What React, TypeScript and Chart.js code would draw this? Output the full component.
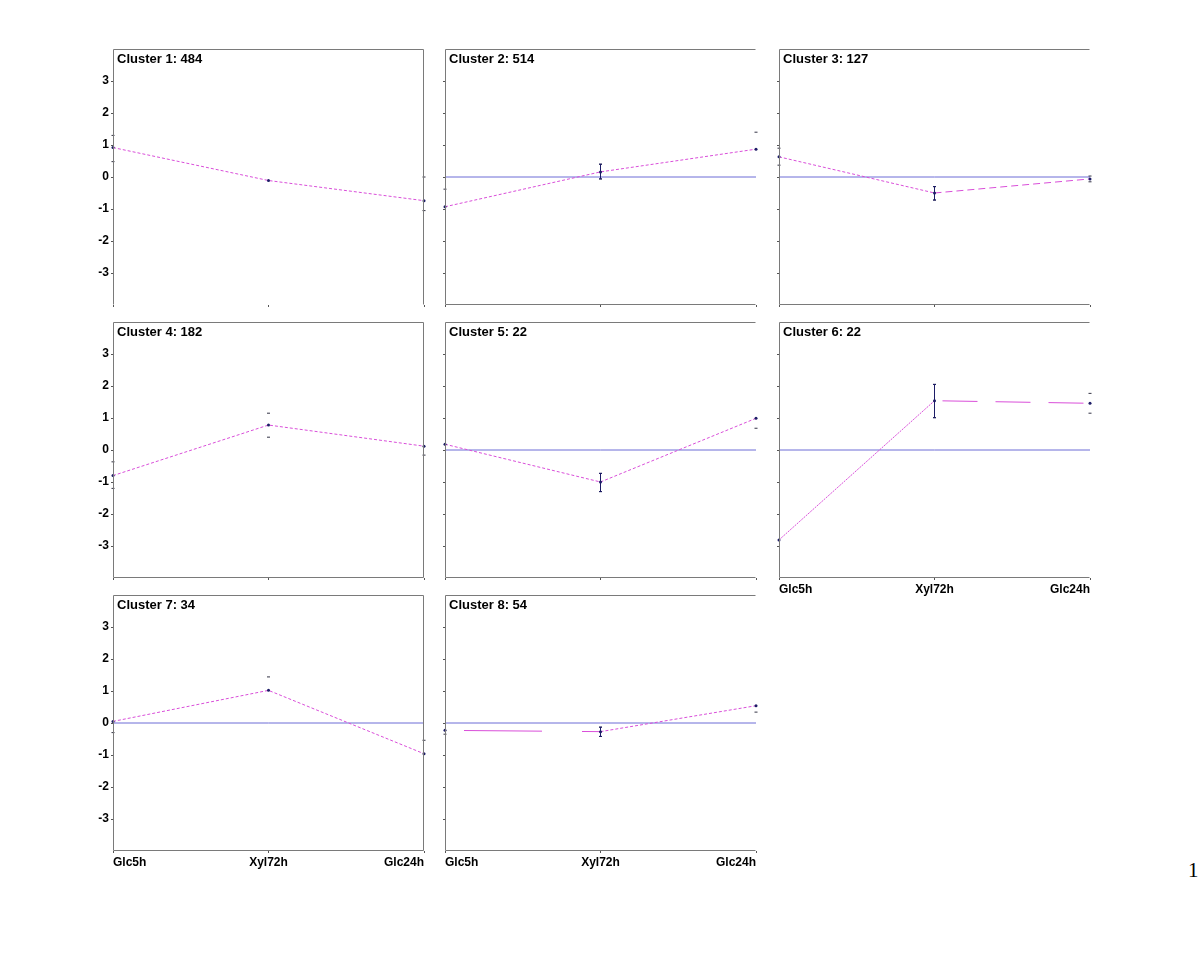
import React, { useEffect, useRef } from 'react';
import { Chart, registerables } from 'chart.js';

Chart.register(...registerables);

// ---------- data ----------
const categories = ['Glc5h', 'Xyl72h', 'Glc24h'];
const clusterTitles = [
  'Cluster 1: 484',
  'Cluster 2: 514',
  'Cluster 3: 127',
  'Cluster 4: 182',
  'Cluster 5: 22',
  'Cluster 6: 22',
  'Cluster 7: 34',
  'Cluster 8: 54',
];
const yTickValues = [-3, -2, -1, 0, 1, 2, 3];

const c1Mean = [0.92, -0.11, -0.74];
const c1Upper = [1.3, null, 0.0];
const c1Lower = [0.48, null, -1.05];
const c1Bars = [false, false, false];

const c2Mean = [-0.93, 0.16, 0.87];
const c2Upper = [-0.38, 0.4, 1.4];
const c2Lower = [null, -0.06, null];
const c2Bars = [false, true, false];

const c3Mean = [0.63, -0.5, -0.06];
const c3Upper = [0.9, -0.3, 0.03];
const c3Lower = [0.37, -0.72, -0.15];
const c3Bars = [false, true, false];

const c4Mean = [-0.8, 0.78, 0.12];
const c4Upper = [-0.37, 1.15, null];
const c4Lower = [-1.2, 0.4, -0.16];
const c4Bars = [false, false, false];

const c5Mean = [0.18, -1.0, 0.99];
const c5Upper = [null, -0.73, null];
const c5Lower = [null, -1.3, 0.68];
const c5Bars = [false, true, false];

const c6Mean = [-2.81, 1.54, 1.46];
const c6Upper = [null, 2.05, 1.77];
const c6Lower = [null, 1.01, 1.15];
const c6Bars = [false, true, false];

const c7Mean = [0.05, 1.02, -0.96];
const c7Upper = [null, 1.44, -0.54];
const c7Lower = [-0.3, null, null];
const c7Bars = [false, false, false];

const c8Mean = [-0.23, -0.27, 0.54];
const c8Upper = [null, -0.13, null];
const c8Lower = [-0.35, -0.42, 0.34];
const c8Bars = [false, true, false];

const zeroLineShown = [false, true, true, false, true, true, true, true];

const clusterMeans = [c1Mean, c2Mean, c3Mean, c4Mean, c5Mean, c6Mean, c7Mean, c8Mean];
const clusterUppers = [c1Upper, c2Upper, c3Upper, c4Upper, c5Upper, c6Upper, c7Upper, c8Upper];
const clusterLowers = [c1Lower, c2Lower, c3Lower, c4Lower, c5Lower, c6Lower, c7Lower, c8Lower];
const clusterBars = [c1Bars, c2Bars, c3Bars, c4Bars, c5Bars, c6Bars, c7Bars, c8Bars];

// ---------- layout / styles ----------
const COL_LEFT = [113, 445, 779];
const ROW_TOP = [49, 322, 595];
const PANEL_W = 311;
const PANEL_H = 256;
const PAD_LEFT = 40;
const PAD_TOP = 12;
const PAD_RIGHT = 12;
const PAD_BOTTOM = 24;
const CANVAS_W = PAD_LEFT + PANEL_W + PAD_RIGHT;
const CANVAS_H = PAD_TOP + PANEL_H + PAD_BOTTOM;

const FONT = "'Liberation Sans', Arial, Helvetica, sans-serif";
const MEAN_COLOR = '#d94ed9';
const ZERO_COLOR = '#6c6cd6';
const BAR_COLOR = '#1c1c66';
const FRAME_COLOR = '#7a7a7a';

const DEFAULT_DASH = { dash: [3, 2], offset: 0 };
const segmentStyles: Record<number, { dash: number[]; offset: number }[]> = {
  2: [DEFAULT_DASH, { dash: [7, 4], offset: 0 }],
  5: [{ dash: [2, 1], offset: 0 }, { dash: [35, 18], offset: 45 }],
  7: [{ dash: [78, 40], offset: 99 }, DEFAULT_DASH],
};

function Panel({ idx }: { idx: number }) {
  const ref = useRef<HTMLCanvasElement | null>(null);
  const col = idx % 3;
  const row = Math.floor(idx / 3);
  const left = COL_LEFT[col] - PAD_LEFT;
  const top = ROW_TOP[row] - PAD_TOP;

  useEffect(() => {
    if (!ref.current) return;
    const showYLabels = col === 0;
    const showXLabels = idx >= 5;
    const frameRight = col === 0;
    const frameBottom = idx !== 0;
    const title = clusterTitles[idx];
    const segs = segmentStyles[idx] || [DEFAULT_DASH, DEFAULT_DASH];

    const datasets: any[] = [];
    if (zeroLineShown[idx]) {
      datasets.push({
        type: 'line',
        data: categories.map(() => 0),
        borderColor: ZERO_COLOR,
        borderWidth: 1,
        pointRadius: 0,
        order: 5,
      });
    }
    datasets.push({
      type: 'line',
      data: clusterMeans[idx],
      borderColor: MEAN_COLOR,
      borderWidth: 1,
      pointRadius: 1.5,
      pointBorderWidth: 0,
      pointBackgroundColor: BAR_COLOR,
      segment: {
        borderDash: (ctx: any) => segs[ctx.p0DataIndex].dash,
        borderDashOffset: (ctx: any) => segs[ctx.p0DataIndex].offset,
      },
      order: 2,
    });
    const markers: any[] = [];
    categories.forEach((c, i) => {
      const u = clusterUppers[idx][i];
      const l = clusterLowers[idx][i];
      if (u !== null) markers.push({ x: c, y: u });
      if (l !== null) markers.push({ x: c, y: l });
    });
    datasets.push({
      type: 'line',
      data: markers,
      showLine: false,
      pointStyle: 'line',
      pointRadius: 1.5,
      borderColor: '#333344',
      pointBorderColor: '#333344',
      pointBorderWidth: 1,
      order: 1,
    });
    categories.forEach((c, i) => {
      const u = clusterUppers[idx][i];
      const l = clusterLowers[idx][i];
      if (clusterBars[idx][i] && u !== null && l !== null) {
        datasets.push({
          type: 'line',
          data: [
            { x: c, y: l },
            { x: c, y: u },
          ],
          borderColor: BAR_COLOR,
          borderWidth: 1,
          pointStyle: 'line',
          pointRadius: 1.5,
          pointBorderColor: BAR_COLOR,
          pointBorderWidth: 1,
          order: 0,
        });
      }
    });

    const framePlugin = {
      id: 'frame' + idx,
      afterDraw(chart: any) {
        const { ctx, chartArea } = chart;
        const l = Math.round(chartArea.left) + 0.5;
        const r = Math.round(chartArea.right) - 0.5;
        const t = Math.round(chartArea.top) + 0.5;
        const b = Math.round(chartArea.bottom) - 0.5;
        ctx.save();
        ctx.strokeStyle = FRAME_COLOR;
        ctx.lineWidth = 1;
        ctx.beginPath();
        ctx.moveTo(l, b);
        ctx.lineTo(l, t);
        ctx.lineTo(r, t);
        if (frameRight) {
          ctx.moveTo(r, t);
          ctx.lineTo(r, b);
        }
        if (frameBottom) {
          ctx.moveTo(l, b);
          ctx.lineTo(r, b);
        }
        ctx.stroke();
        ctx.fillStyle = '#000';
        ctx.font = `bold 13px ${FONT}`;
        ctx.textBaseline = 'alphabetic';
        ctx.textAlign = 'left';
        ctx.fillText(title, chartArea.left + 4, chartArea.top + 14);
        ctx.restore();
      },
    };

    const chart = new Chart(ref.current, {
      type: 'line',
      data: { labels: categories, datasets },
      options: {
        animation: false,
        responsive: false,
        devicePixelRatio: 1,
        events: [],
        layout: {
          autoPadding: false,
          padding: { left: 0, top: PAD_TOP, right: PAD_RIGHT, bottom: 0 },
        },
        plugins: { legend: { display: false }, tooltip: { enabled: false } },
        scales: {
          x: {
            type: 'category',
            offset: false,
            afterFit: (s: any) => {
              s.height = PAD_BOTTOM;
            },
            border: { display: false },
            grid: {
              display: true,
              drawOnChartArea: false,
              drawTicks: true,
              tickLength: 2,
              color: '#555',
            },
            ticks: {
              align: 'inner',
              autoSkip: false,
              maxRotation: 0,
              padding: 2,
              color: '#000',
              font: { family: FONT, size: 12, weight: 'bold' },
              callback: (v: any, i: number) => (showXLabels ? categories[i] : ''),
            },
          },
          y: {
            type: 'linear',
            min: -4,
            max: 4,
            afterFit: (s: any) => {
              s.width = PAD_LEFT;
            },
            afterBuildTicks: (s: any) => {
              s.ticks = yTickValues.map((v) => ({ value: v }));
            },
            border: { display: false },
            grid: {
              display: true,
              drawOnChartArea: false,
              drawTicks: true,
              tickLength: 2,
              color: '#555',
            },
            ticks: {
              padding: 2,
              color: '#000',
              font: { family: FONT, size: 12, weight: 'bold' },
              callback: (v: any) => (showYLabels ? String(v) : ''),
            },
          },
        },
      } as any,
      plugins: [framePlugin],
    });
    return () => chart.destroy();
  }, [idx]);

  return (
    <canvas
      ref={ref}
      width={CANVAS_W}
      height={CANVAS_H}
      style={{ position: 'absolute', left, top, width: CANVAS_W, height: CANVAS_H }}
    />
  );
}

export default function App() {
  return (
    <div style={{ position: 'absolute', left: 0, top: 0, width: 1200, height: 961, background: '#fff' }}>
      {clusterTitles.map((_, i) => (
        <Panel key={i} idx={i} />
      ))}
      <div
        style={{
          position: 'absolute',
          left: 1188,
          top: 860,
          fontFamily: "'Liberation Serif', 'Times New Roman', serif",
          fontSize: 21,
          lineHeight: '21px',
          color: '#000',
        }}
      >
        1
      </div>
    </div>
  );
}
